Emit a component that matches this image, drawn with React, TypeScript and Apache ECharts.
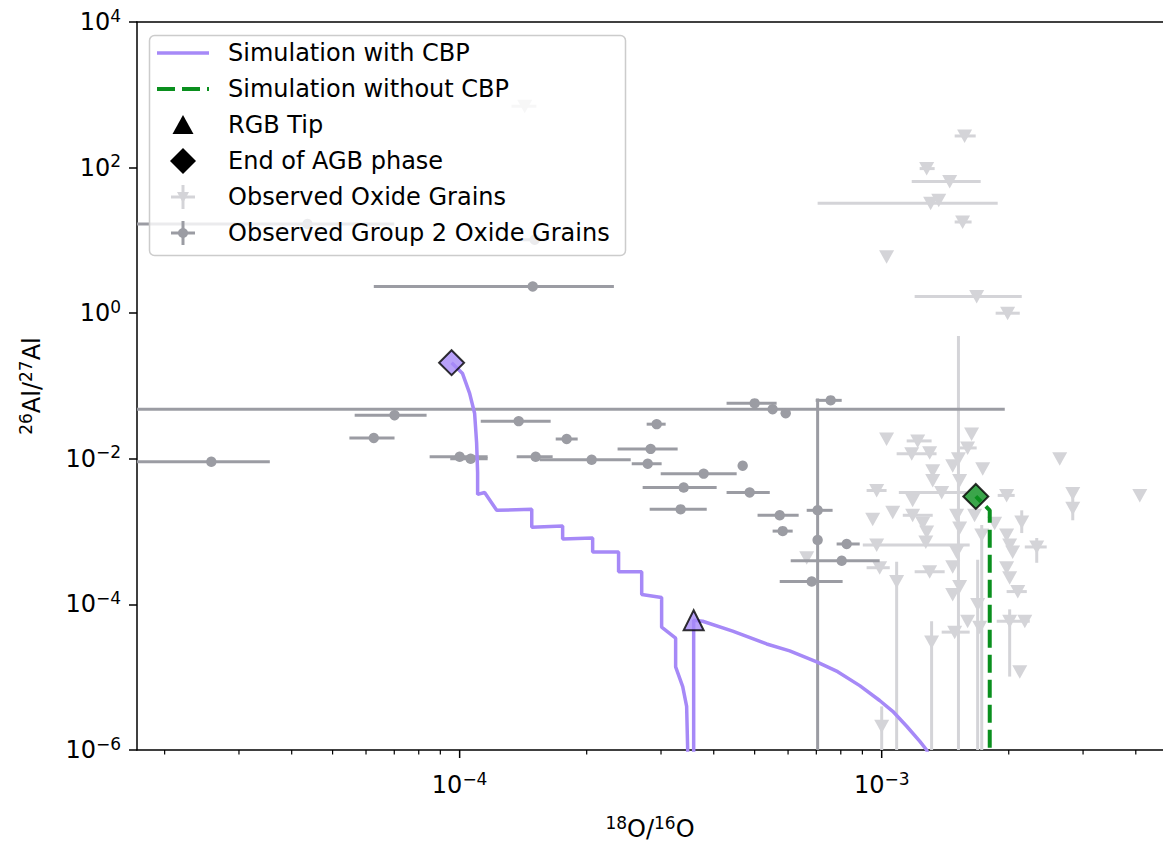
import React, { useEffect, useRef } from "react";
import * as echarts from "echarts";

// ---------- axis ranges ----------
const xMin = 1.72e-5;
const xMax = 4.64e-3;
const yMin = 1e-6;
const yMax = 1e4;
const yTickStep = 2; // decades
const xMajorTicks = [1e-4, 1e-3];
const xMinorTicks = [
  2e-5, 3e-5, 4e-5, 5e-5, 6e-5, 7e-5, 8e-5, 9e-5,
  2e-4, 3e-4, 4e-4, 5e-4, 6e-4, 7e-4, 8e-4, 9e-4,
  2e-3, 3e-3, 4e-3,
];

// ---------- simulation with CBP (18O/16O, 26Al/27Al) ----------
const simCbpX = [
  1.299e-3, 1.278e-3, 1.23e-3, 1.146e-3, 1.062e-3, 9.89e-4, 8.87e-4, 7.865e-4, 7.015e-4, 6.053e-4,
  5.34e-4, 4.435e-4, 3.765e-4, 3.585e-4, 3.585e-4, 3.47e-4, 3.47e-4, 3.45e-4, 3.377e-4, 3.249e-4,
  3.249e-4, 3.01e-4, 3.01e-4, 2.7e-4, 2.7e-4, 2.38e-4, 2.38e-4, 2.066e-4, 2.066e-4, 1.754e-4,
  1.754e-4, 1.482e-4, 1.482e-4, 1.224e-4, 1.146e-4, 1.103e-4, 1.103e-4, 1.097e-4, 1.085e-4, 1.056e-4,
  1.016e-4, 9.57e-5,
];
const simCbpY = [
  7.8e-7, 1e-6, 1.325e-6, 2.12e-6, 3.4e-6, 4.79e-6, 7.66e-6, 1.19e-5, 1.626e-5, 2.3e-5,
  2.86e-5, 4.29e-5, 5.87e-5, 6.05e-5, 4.86e-7, 4.86e-7, 1e-6, 3.97e-6, 7.43e-6, 1.39e-5,
  3.44e-5, 4.87e-5, 1.245e-4, 1.37e-4, 2.81e-4, 2.81e-4, 5.26e-4, 5.26e-4, 8.16e-4, 7.91e-4,
  1.19e-3, 1.15e-3, 2.02e-3, 1.96e-3, 3.45e-3, 3.24e-3, 6.45e-3, 0.01652, 0.0423, 0.0791,
  0.148, 0.209,
];

// ---------- simulation without CBP ----------
const simNoCbpX = [1.803e-3, 1.803e-3, 1.671e-3];
const simNoCbpY = [4.86e-7, 1.96e-3, 3.04e-3];

// ---------- special points ----------
const rgbTipPoint = [3.585e-4, 6.05e-5];
const agbEndCbpPoint = [9.57e-5, 0.209];
const agbEndNoCbpPoint = [1.671e-3, 3.04e-3];

// ---------- observed oxide grains: [x, y, xLow, xHigh, yLow, yHigh] ----------
const oxideGrains: number[][] = [
  [1.426e-4, 697, 1.327e-4, 1.52e-4],
  [1.572e-3, 272, 1.489e-3, 1.67e-3],
  [1.278e-3, 96.9, 1.23e-3, 1.335e-3],
  [1.449e-3, 64.5, 1.178e-3, 1.716e-3],
  [1.306e-3, 32.4, 7.05e-4, 1.883e-3],
  [1.365e-3, 35.6],
  [1.555e-3, 17.9, 1.489e-3, 1.633e-3],
  [1.027e-3, 5.96],
  [1.679e-3, 1.7, 1.197e-3, 2.147e-3],
  [1.988e-3, 1.0, 1.862e-3, 2.124e-3],
  [1.027e-3, 0.0187],
  [1.217e-3, 0.0176, 1.146e-3, 1.313e-3],
  [1.178e-3, 0.0117, 1.085e-3, 1.349e-3],
  [1.299e-3, 0.0121],
  [1.633e-3, 0.0219],
  [1.598e-3, 0.0141, 1.53e-3, 1.679e-3],
  [1.52e-3, 0.01, 1.52e-3, 1.52e-3, 1e-7, 0.486],
  [1.473e-3, 8.03e-3],
  [1.735e-3, 7.31e-3],
  [2.641e-3, 0.01],
  [1.321e-3, 6.87e-3],
  [1.321e-3, 5.02e-3],
  [1.53e-3, 5.02e-3],
  [9.73e-4, 3.67e-3, 9.21e-4, 1.027e-3],
  [1.387e-3, 3.45e-3, 1.098e-3, 1.589e-3],
  [1.977e-3, 3.14e-3, 1.883e-3, 2.066e-3],
  [2.836e-3, 3.34e-3],
  [2.836e-3, 2.09e-3, 2.836e-3, 2.836e-3, 1.43e-3, 3.34e-3],
  [4.088e-3, 3.14e-3],
  [1.184e-3, 2.69e-3],
  [1.062e-3, 1.84e-3],
  [9.52e-4, 1.48e-3],
  [1.184e-3, 1.675e-3, 1.122e-3, 1.321e-3],
  [1.251e-3, 1.3e-3],
  [1.278e-3, 9.84e-4],
  [1.272e-3, 7.2e-4],
  [1.505e-3, 1.675e-3],
  [1.66e-3, 1.675e-3],
  [1.53e-3, 1.12e-3],
  [1.726e-3, 8.96e-4, 1.726e-3, 1.726e-3, 1e-7, 1.23e-3],
  [1.852e-3, 1.3e-3],
  [2.147e-3, 1.35e-3, 2.147e-3, 2.147e-3, 9.55e-4, 1.96e-3],
  [1.977e-3, 8.96e-4],
  [2.01e-3, 6.55e-4],
  [2.043e-3, 5.26e-4],
  [2.33e-3, 6.15e-4, 2.183e-3, 2.46e-3, 3.73e-4, 8.16e-4],
  [9.73e-4, 6.55e-4, 9.02e-4, 1.616e-3],
  [1.505e-3, 5.26e-4],
  [1.473e-3, 3.29e-4],
  [6.642e-4, 4.36e-4],
  [9.89e-4, 3.19e-4, 9.21e-4, 1.045e-3],
  [1.085e-3, 2.06e-4, 1.085e-3, 1.085e-3, 1e-7, 3.85e-4],
  [1.299e-3, 2.81e-4, 1.197e-3, 1.41e-3],
  [1.977e-3, 3.19e-4],
  [2.01e-3, 2.33e-4],
  [1.53e-3, 1.76e-4],
  [1.473e-3, 1.37e-4],
  [2.101e-3, 1.5e-4, 1.977e-3, 2.207e-3],
  [1.688e-3, 1.0e-4, 1.688e-3, 1.688e-3, 1e-7, 4.09e-4],
  [1.598e-3, 5.87e-5],
  [1.707e-3, 4.87e-5],
  [2.01e-3, 5.87e-5, 1.873e-3, 2.243e-3, 1.02e-5, 8.55e-5],
  [2.183e-3, 5.87e-5],
  [1.313e-3, 3.04e-5, 1.313e-3, 1.313e-3, 1e-7, 5.87e-5],
  [1.489e-3, 4.16e-5, 1.387e-3, 1.616e-3],
  [2.124e-3, 1.19e-5],
  [1.0e-3, 2.12e-6, 1.0e-3, 1.0e-3, 1e-7, 3.97e-6],
];

// ---------- observed group 2 oxide grains: [x, y, xLow, xHigh, yLow, yHigh] ----------
const group2Grains: number[][] = [
  [4.36e-5, 16.8, 1.0e-5, 7.0e-5],
  [1.506e-4, 10.2, 1.41e-4, 1.607e-4],
  [1.49e-4, 2.33, 6.26e-5, 2.32e-4],
  [7.01e-5, 0.0397, 5.64e-5, 8.35e-5, 0.034, 0.046],
  [6.26e-5, 0.0193, 5.48e-5, 7.01e-5],
  [2.58e-5, 9.1e-3, 1.5e-5, 3.55e-5],
  [1.38e-4, 0.0329, 1.122e-4, 1.643e-4],
  [1.0e-4, 0.01065, 8.49e-5, 1.165e-4],
  [1.062e-4, 0.01, 9.5e-5, 1.165e-4],
  [1.514e-4, 0.01065, 1.365e-4, 1.661e-4],
  [2.055e-4, 9.69e-3, 1.548e-4, 2.543e-4],
  [1.793e-4, 0.0187, 1.689e-4, 1.904e-4, 0.0168, 0.0206],
  [2.93e-4, 0.0299, 2.774e-4, 3.077e-4, 0.027, 0.033],
  [2.835e-4, 0.01368, 2.367e-4, 3.285e-4],
  [2.79e-4, 8.55e-3, 2.557e-4, 3.01e-4],
  [4.684e-4, 8.03e-3, 4.6e-4, 4.78e-4, 7.5e-3, 8.6e-3],
  [3.786e-4, 6.25e-3, 2.995e-4, 4.533e-4],
  [3.395e-4, 4.03e-3, 2.714e-4, 4.064e-4],
  [4.866e-4, 3.45e-3, 4.29e-4, 5.43e-4],
  [3.339e-4, 2.02e-3, 2.82e-4, 3.85e-4],
  [5.733e-4, 1.675e-3, 5.08e-4, 6.357e-4],
  [5.827e-4, 1.016e-3, 5.515e-4, 6.153e-4, 9.5e-4, 1.09e-3],
  [7.05e-4, 1.96e-3, 6.642e-4, 7.65e-4],
  [7.05e-4, 7.66e-4, 7.05e-4, 7.05e-4, 1e-7, 0.0676],
  [8.26e-4, 6.76e-4, 7.82e-4, 8.87e-4, 6.0e-4, 7.6e-4],
  [8.04e-4, 3.97e-4, 6.087e-4, 9.89e-4],
  [6.825e-4, 2.06e-4, 5.733e-4, 8.08e-4, 1.8e-4, 2.06e-4],
  [7.57e-4, 0.0635, 6.976e-4, 8.04e-4],
  [5.0e-4, 0.0578, 4.29e-4, 5.637e-4],
  [5.515e-4, 0.0479, 1.0e-5, 1.957e-3],
  [5.923e-4, 0.0423],
];

// ---------- styling ----------
const PURPLE = "#a689f7";
const GREEN = "#0a8f1e";
const LIGHT_GRAY = "#d4d4d8";
const DARK_GRAY = "#9b9ca3";
const FONT = "DejaVu Sans";

const lg = (v: number) => Math.log10(v);

const toRow = (r: number[]) => {
  const x = r[0];
  const y = r[1];
  const xlo = r.length > 2 ? r[2] : x;
  const xhi = r.length > 3 ? r[3] : x;
  const ylo = r.length > 4 ? r[4] : y;
  const yhi = r.length > 5 ? r[5] : y;
  return [x, y, xlo, xhi, ylo, yhi].map(lg);
};

const expText = (v: number) => {
  const n = Math.round(v);
  return n < 0 ? "\u2212" + Math.abs(n) : String(n);
};

const makeErrRender = (color: string, marker: "tri" | "dot") => (_params: any, api: any) => {
  const x = api.value(0);
  const y = api.value(1);
  const c = api.coord([x, y]);
  const l = api.coord([api.value(2), y]);
  const r = api.coord([api.value(3), y]);
  const b = api.coord([x, api.value(4)]);
  const t = api.coord([x, api.value(5)]);
  const st = { stroke: color, lineWidth: 3 };
  const children: any[] = [];
  if (r[0] - l[0] > 0.5) {
    children.push({ type: "line", shape: { x1: l[0], y1: c[1], x2: r[0], y2: c[1] }, style: st });
  }
  if (b[1] - t[1] > 0.5) {
    children.push({ type: "line", shape: { x1: c[0], y1: t[1], x2: c[0], y2: b[1] }, style: st });
  }
  if (marker === "tri") {
    children.push({
      type: "polygon",
      shape: { points: [[c[0] - 7.5, c[1] - 6.5], [c[0] + 7.5, c[1] - 6.5], [c[0], c[1] + 7]] },
      style: { fill: color },
    });
  } else {
    children.push({ type: "circle", shape: { cx: c[0], cy: c[1], r: 5.2 }, style: { fill: color } });
  }
  return { type: "group", children };
};

const legendItems = [
  "Simulation with CBP",
  "Simulation without CBP",
  "RGB Tip",
  "End of AGB phase",
  "Observed Oxide Grains",
  "Observed Group 2 Oxide Grains",
];

function buildLegend() {
  const rowY = (i: number) => 53 + 36 * i;
  const ix = 183;
  const Z = 100;
  const children: any[] = [
    {
      type: "rect",
      z: Z,
      shape: { x: 149.5, y: 35.5, width: 476, height: 220, r: 5 },
      style: { fill: "rgba(255,255,255,0.8)", stroke: "#cccccc", lineWidth: 1.5 },
    },
    { type: "line", z: Z + 1, shape: { x1: 157, y1: rowY(0), x2: 209, y2: rowY(0) }, style: { stroke: PURPLE, lineWidth: 3.5 } },
    {
      type: "line",
      z: Z + 1,
      shape: { x1: 157, y1: rowY(1), x2: 209, y2: rowY(1) },
      style: { stroke: GREEN, lineWidth: 4, lineDash: [18, 7] },
    },
    {
      type: "polygon",
      z: Z + 1,
      shape: { points: [[ix, rowY(2) - 10], [ix + 10.5, rowY(2) + 9], [ix - 10.5, rowY(2) + 9]] },
      style: { fill: "#000" },
    },
    {
      type: "polygon",
      z: Z + 1,
      shape: { points: [[ix, rowY(3) - 13], [ix + 13, rowY(3)], [ix, rowY(3) + 13], [ix - 13, rowY(3)]] },
      style: { fill: "#000" },
    },
  ];
  const errIcon = (i: number, color: string, tri: boolean) => {
    const y = rowY(i);
    children.push({ type: "line", z: Z + 1, shape: { x1: ix, y1: y - 12, x2: ix, y2: y + 12 }, style: { stroke: color, lineWidth: 3 } });
    children.push({ type: "line", z: Z + 1, shape: { x1: ix - 12, y1: y, x2: ix + 12, y2: y }, style: { stroke: color, lineWidth: 3 } });
    if (tri) {
      children.push({
        type: "polygon",
        z: Z + 1,
        shape: { points: [[ix - 6, y - 5], [ix + 6, y - 5], [ix, y + 6]] },
        style: { fill: color },
      });
    } else {
      children.push({ type: "circle", z: Z + 1, shape: { cx: ix, cy: y, r: 5 }, style: { fill: color } });
    }
  };
  errIcon(4, LIGHT_GRAY, true);
  errIcon(5, DARK_GRAY, false);
  legendItems.forEach((name, i) => {
    children.push({
      type: "text",
      z: Z + 1,
      x: 228,
      y: rowY(i),
      style: {
        text: name,
        fill: "#000",
        font: `24px "${FONT}"`,
        verticalAlign: "middle",
        textVerticalAlign: "middle",
      },
    });
  });
  return [{ type: "group", z: Z, children }];
}

export default function App() {
  const ref = useRef<HTMLDivElement>(null);

  useEffect(() => {
    if (!ref.current) return;
    const chart = echarts.init(ref.current, null, { renderer: "svg" });

    const cbpData = simCbpX.map((x, i) => [lg(x), lg(simCbpY[i])]);
    const noCbpData = simNoCbpX.map((x, i) => [lg(x), lg(simNoCbpY[i])]);
    const tickData = [
      ...xMajorTicks.map((v) => [lg(v), lg(yMin), 1]),
      ...xMinorTicks.map((v) => [lg(v), lg(yMin), 0]),
    ];

    const richTick = {
      b: { fontSize: 24, fontFamily: FONT, color: "#000", lineHeight: 30 },
      e: { fontSize: 17, fontFamily: FONT, color: "#000", lineHeight: 17, verticalAlign: "top" },
    };
    const richName = {
      n: { fontSize: 24, fontFamily: FONT, color: "#000", lineHeight: 30 },
      s: { fontSize: 17, fontFamily: FONT, color: "#000", lineHeight: 17, verticalAlign: "top" },
    };

    const option: any = {
      animation: false,
      backgroundColor: "#fff",
      grid: { left: 137, right: 0, top: 22, bottom: 89, containLabel: false },
      xAxis: [
        {
          type: "value",
          min: lg(xMin),
          max: lg(xMax),
          axisLine: { show: true, onZero: false, lineStyle: { color: "#000", width: 1.5 } },
          axisTick: { show: false },
          splitLine: { show: false },
          axisLabel: {
            show: true,
            margin: 20,
            showMinLabel: false,
            showMaxLabel: false,
            formatter: (v: number) =>
              Math.abs(v - Math.round(v)) < 1e-6 ? `{b|10}{e|${expText(v)}}` : "",
            rich: richTick,
          },
          name: "{s|18}{n|O/}{s|16}{n|O}",
          nameLocation: "middle",
          nameGap: 64,
          nameTextStyle: { rich: richName },
        },
        {
          type: "value",
          position: "top",
          min: lg(xMin),
          max: lg(xMax),
          axisLine: { show: true, onZero: false, lineStyle: { color: "#000", width: 1.5 } },
          axisTick: { show: false },
          axisLabel: { show: false },
          splitLine: { show: false },
        },
      ],
      yAxis: {
        type: "value",
        min: lg(yMin),
        max: lg(yMax),
        interval: yTickStep,
        axisLine: { show: true, onZero: false, lineStyle: { color: "#000", width: 1.5 } },
        axisTick: { show: true, length: 8, lineStyle: { color: "#000", width: 1.5 } },
        splitLine: { show: false },
        axisLabel: {
          margin: 16,
          formatter: (v: number) => `{b|10}{e|${expText(v)}}`,
          rich: richTick,
        },
        name: "{s|26}{n|Al/}{s|27}{n|Al}",
        nameLocation: "middle",
        nameGap: 90,
        nameTextStyle: { rich: richName },
      },
      series: [
        {
          name: "Observed Oxide Grains",
          type: "custom",
          clip: true,
          z: 1,
          silent: true,
          encode: { x: 0, y: 1 },
          renderItem: makeErrRender(LIGHT_GRAY, "tri"),
          data: oxideGrains.map(toRow),
        },
        {
          name: "Observed Group 2 Oxide Grains",
          type: "custom",
          clip: true,
          z: 2,
          silent: true,
          encode: { x: 0, y: 1 },
          renderItem: makeErrRender(DARK_GRAY, "dot"),
          data: group2Grains.map(toRow),
        },
        {
          name: "Simulation with CBP",
          type: "line",
          z: 3,
          clip: true,
          symbol: "none",
          lineStyle: { color: PURPLE, width: 3.5 },
          data: cbpData,
        },
        {
          name: "Simulation without CBP",
          type: "line",
          z: 3,
          clip: true,
          symbol: "none",
          lineStyle: { color: GREEN, width: 4, type: [18, 7] },
          data: noCbpData,
        },
        {
          name: "RGB Tip",
          type: "scatter",
          z: 5,
          symbol: "triangle",
          symbolSize: 20,
          itemStyle: { color: PURPLE, borderColor: "#000", borderWidth: 2 },
          data: [[lg(rgbTipPoint[0]), lg(rgbTipPoint[1])]],
        },
        {
          name: "End of AGB phase",
          type: "scatter",
          z: 5,
          symbol: "diamond",
          symbolSize: 25,
          itemStyle: { borderColor: "#000", borderWidth: 2 },
          data: [
            { value: [lg(agbEndCbpPoint[0]), lg(agbEndCbpPoint[1])], itemStyle: { color: PURPLE } },
            { value: [lg(agbEndNoCbpPoint[0]), lg(agbEndNoCbpPoint[1])], itemStyle: { color: GREEN } },
          ],
        },
        {
          name: "x ticks",
          type: "custom",
          clip: false,
          silent: true,
          z: 6,
          encode: { x: 0, y: 1 },
          renderItem: (_p: any, api: any) => {
            const p = api.coord([api.value(0), api.value(1)]);
            const major = api.value(2) === 1;
            return {
              type: "line",
              shape: { x1: p[0], y1: p[1], x2: p[0], y2: p[1] + (major ? 8 : 4.5) },
              style: { stroke: "#000", lineWidth: major ? 1.5 : 1.2 },
            };
          },
          data: tickData,
        },
      ],
      graphic: buildLegend(),
    };

    chart.setOption(option);
    return () => chart.dispose();
  }, []);

  return (
    <div
      ref={ref}
      style={{ position: "absolute", left: 0, top: 0, width: 1163, height: 846, background: "#fff" }}
    />
  );
}
